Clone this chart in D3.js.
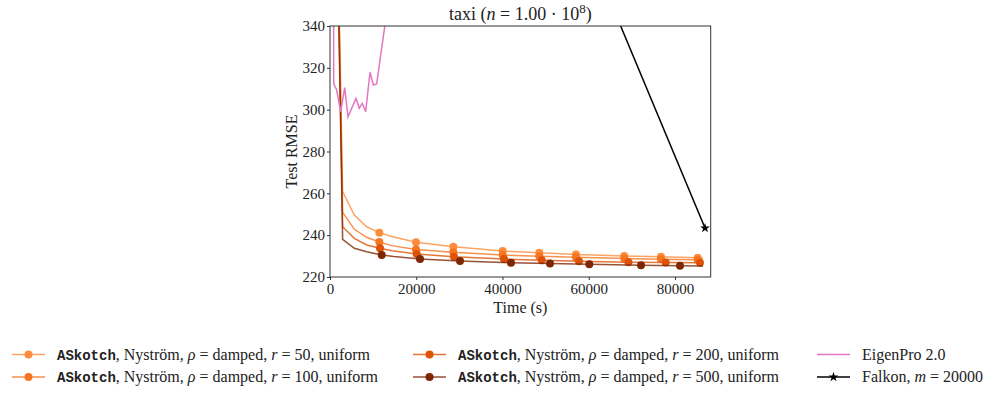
<!doctype html>
<html>
  <head>
    <meta charset="utf-8">
    <title>taxi test RMSE</title>
    <script src="https://cdnjs.cloudflare.com/ajax/libs/d3/7.8.5/d3.min.js"></script>
    <style>
      body { margin: 0; background: #fff; }
      svg text { font-family: "Liberation Serif", "DejaVu Serif", serif; fill: #222; }
      .tt { font-family: "Liberation Mono", "DejaVu Sans Mono", monospace; font-weight: bold; font-size: 14px; }
    </style>
  </head>
  <body>
    <div id="chart"></div>
    <script>
      // data
      const rankLabels = ['50', '100', '200', '500'];
      const askotchColors = ['#fd8d3c', '#f57520', '#dd5408', '#7f2704'];

      const timeR50 = [0, 2930, 5640, 8500, 11440, 14300, 19940, 28600, 40040, 48540, 57040, 68250, 76750, 85260, 86500];
      const rmseR50 = [580, 260.8, 249.6, 244.0, 241.2, 239.4, 236.6, 234.5, 232.4, 231.6, 230.8, 230.0, 229.7, 229.2, 229.1];
      const timeR100 = [0, 2930, 5640, 8500, 11440, 14300, 19940, 28600, 40040, 48540, 57040, 68250, 76750, 85260, 86500];
      const rmseR100 = [580, 250.9, 242.8, 239.0, 236.7, 235.0, 233.2, 231.8, 230.5, 229.9, 229.4, 228.9, 228.5, 228.2, 228.1];
      const timeR200 = [0, 2930, 5640, 8500, 11600, 14400, 20100, 28750, 40350, 49100, 57740, 69200, 77840, 85800, 86500];
      const rmseR200 = [580, 244.0, 238.5, 235.3, 233.7, 232.5, 231.0, 229.7, 228.6, 228.0, 227.5, 227.1, 226.9, 226.8, 226.8];
      const timeR500 = [0, 2930, 5640, 8500, 11990, 14800, 20870, 30150, 41970, 51010, 60130, 72120, 81160, 86500];
      const rmseR500 = [580, 238.0, 233.7, 232.1, 230.5, 229.8, 228.6, 227.6, 226.8, 226.4, 226.1, 225.6, 225.4, 225.3];
      // which points carry a marker
      const markedR50 = [4, 6, 7, 8, 9, 10, 11, 12, 13];
      const markedR100 = [4, 6, 7, 8, 9, 10, 11, 12, 13];
      const markedR200 = [4, 6, 7, 8, 9, 10, 11, 12, 13];
      const markedR500 = [4, 6, 7, 8, 9, 10, 11, 12];

      const timeEigenPro = [780, 858, 1554, 2481, 3409, 4174, 6029, 6794, 7490, 8278, 9275, 10041, 10829, 11594, 13100];
      const rmseEigenPro = [420, 312.3, 309.4, 299.0, 310.5, 296.6, 305.4, 300.7, 303.0, 299.0, 317.9, 311.8, 312.3, 323.7, 345.7];

      const timeFalkon = [43200, 86960];
      const rmseFalkon = [459.5, 243.4];

      const xTicks = [0, 20000, 40000, 60000, 80000];
      const yTicks = [220, 240, 260, 280, 300, 320, 340];

      const W = 996, H = 397;
      const mLeft = 330, mTop = 26, mRight = 710.7, mBottom = 277;

      const x = d3.scaleLinear().domain([0, 88280]).range([mLeft, mRight]);
      const y = d3.scaleLinear().domain([220, 340]).range([mBottom, mTop]);

      const svg = d3.select('#chart').append('svg')
        .attr('width', W).attr('height', H);

      svg.append('clipPath').attr('id', 'plotclip')
        .append('rect')
        .attr('x', mLeft).attr('y', mTop)
        .attr('width', mRight - mLeft).attr('height', mBottom - mTop);

      const plot = svg.append('g').attr('clip-path', 'url(#plotclip)');
      const line = d3.line().x(d => x(d[0])).y(d => y(d[1]));

      const askotch = [
        { t: timeR50, v: rmseR50, m: markedR50 },
        { t: timeR100, v: rmseR100, m: markedR100 },
        { t: timeR200, v: rmseR200, m: markedR200 },
        { t: timeR500, v: rmseR500, m: markedR500 }
      ];

      askotch.forEach((s, i) => {
        const pts = s.t.map((t, j) => [t, s.v[j]]);
        plot.append('path')
          .attr('d', line(pts))
          .attr('fill', 'none')
          .attr('stroke', askotchColors[i])
          .attr('stroke-width', 1.5)
          .attr('stroke-opacity', 0.8);
        plot.selectAll(null)
          .data(s.m.map(j => pts[j]))
          .join('circle')
          .attr('cx', d => x(d[0]))
          .attr('cy', d => y(d[1]))
          .attr('r', 4)
          .attr('fill', askotchColors[i]);
      });

      plot.append('path')
        .attr('d', line(timeEigenPro.map((t, j) => [t, rmseEigenPro[j]])))
        .attr('fill', 'none')
        .attr('stroke', '#e377c2')
        .attr('stroke-width', 1.5);

      const falkonPts = timeFalkon.map((t, j) => [t, rmseFalkon[j]]);
      plot.append('path')
        .attr('d', line(falkonPts))
        .attr('fill', 'none')
        .attr('stroke', '#000')
        .attr('stroke-width', 1.5);
      const star = d3.symbol().type(d3.symbolStar).size(30);
      svg.append('path')
        .attr('d', star())
        .attr('transform', `translate(${x(falkonPts[1][0])},${y(falkonPts[1][1])})`)
        .attr('fill', '#000');

      // axes
      const xAxis = svg.append('g')
        .attr('transform', `translate(0,${mBottom})`)
        .call(d3.axisBottom(x).tickValues(xTicks).tickFormat(d3.format('d')).tickSize(3).tickPadding(3));
      const yAxis = svg.append('g')
        .attr('transform', `translate(${mLeft},0)`)
        .call(d3.axisLeft(y).tickValues(yTicks).tickSize(3).tickPadding(2));
      [xAxis, yAxis].forEach(g => {
        g.selectAll('text').style('font-size', '15px').attr('fill', '#222');
        g.selectAll('line').attr('stroke', '#333');
        g.select('.domain').remove();
      });

      svg.append('rect')
        .attr('x', mLeft).attr('y', mTop)
        .attr('width', mRight - mLeft).attr('height', mBottom - mTop)
        .attr('fill', 'none').attr('stroke', '#333').attr('stroke-width', 1);

      // title and axis labels
      const title = svg.append('text')
        .attr('x', (mLeft + mRight) / 2).attr('y', 20)
        .attr('text-anchor', 'middle').style('font-size', '18px');
      title.append('tspan').text('taxi (');
      title.append('tspan').style('font-style', 'italic').text('n');
      title.append('tspan').text(' = 1.00 · 10');
      title.append('tspan').attr('dy', -7).style('font-size', '13px').text('8');
      title.append('tspan').attr('dy', 7).text(')');

      svg.append('text')
        .attr('x', (mLeft + mRight) / 2).attr('y', 313)
        .attr('text-anchor', 'middle').style('font-size', '16px')
        .text('Time (s)');
      svg.append('text')
        .attr('transform', `translate(297,${(mTop + mBottom) / 2}) rotate(-90)`)
        .attr('text-anchor', 'middle').style('font-size', '16px')
        .text('Test RMSE');

      // legend
      const legendColX = [12, 413];
      const rowY = [354.5, 377];
      rankLabels.forEach((r, i) => {
        const lx = legendColX[i < 2 ? 0 : 1], ly = rowY[i % 2];
        const g = svg.append('g');
        g.append('line')
          .attr('x1', lx).attr('x2', lx + 33).attr('y1', ly).attr('y2', ly)
          .attr('stroke', askotchColors[i]).attr('stroke-width', 1.5).attr('stroke-opacity', 0.8);
        g.append('circle').attr('cx', lx + 16.5).attr('cy', ly).attr('r', 4).attr('fill', askotchColors[i]);
        const t = g.append('text').attr('x', lx + 45).attr('y', ly + 5).style('font-size', '16px');
        t.append('tspan').attr('class', 'tt').text('ASkotch');
        t.append('tspan').text(', Nyström, ');
        t.append('tspan').style('font-style', 'italic').text('ρ');
        t.append('tspan').text(' = damped, ');
        t.append('tspan').style('font-style', 'italic').text('r');
        t.append('tspan').text(` = ${r}, uniform`);
      });

      const lx3 = 817;
      svg.append('line')
        .attr('x1', lx3).attr('x2', lx3 + 33).attr('y1', rowY[0]).attr('y2', rowY[0])
        .attr('stroke', '#e377c2').attr('stroke-width', 1.5);
      svg.append('text').attr('x', lx3 + 45).attr('y', rowY[0] + 5).style('font-size', '16px')
        .text('EigenPro 2.0');
      svg.append('line')
        .attr('x1', lx3).attr('x2', lx3 + 33).attr('y1', rowY[1]).attr('y2', rowY[1])
        .attr('stroke', '#000').attr('stroke-width', 1.5);
      svg.append('path')
        .attr('d', star())
        .attr('transform', `translate(${lx3 + 16.5},${rowY[1]})`)
        .attr('fill', '#000');
      const ft = svg.append('text').attr('x', lx3 + 45).attr('y', rowY[1] + 5).style('font-size', '16px');
      ft.append('tspan').text('Falkon, ');
      ft.append('tspan').style('font-style', 'italic').text('m');
      ft.append('tspan').text(' = 20000');
    </script>
  </body>
</html>
